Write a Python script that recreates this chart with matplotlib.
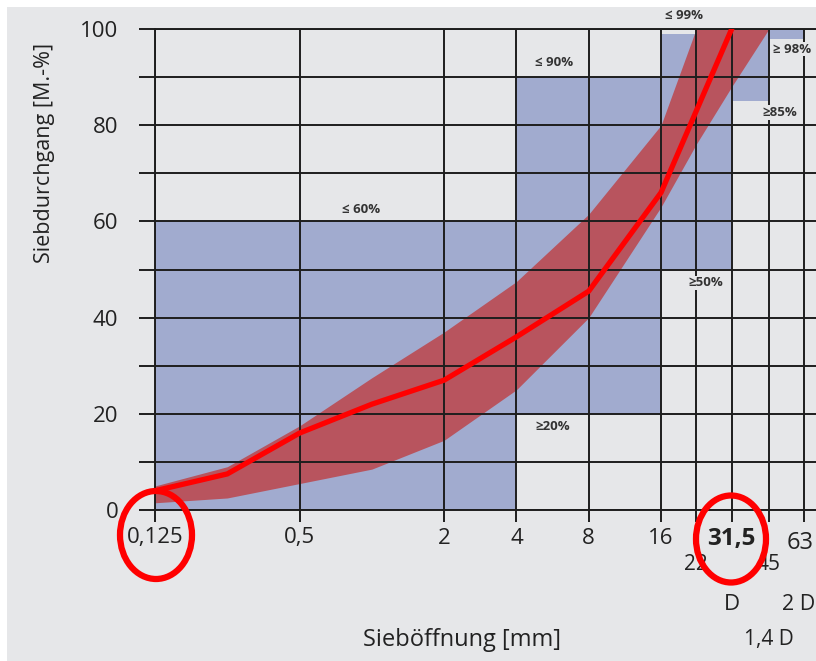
import matplotlib
matplotlib.use("Agg")
import matplotlib.pyplot as plt
import matplotlib.transforms as mtransforms
from matplotlib.patches import Ellipse, Rectangle
from matplotlib.ticker import FixedLocator, NullFormatter

plt.rcParams['font.family'] = ['Open Sans', 'DejaVu Sans']

# grading curve of the mix: sieve size [mm] -> passing [M.-%]
sizes = [0.125, 0.25, 0.5, 1, 2, 4, 8, 16, 31.5]
passing = [4, 7.5, 16, 22, 27, 36, 45.5, 66, 100]

# recommended grading range
band_sizes = [0.125, 0.25, 0.5, 1, 2, 4, 8, 16, 22.4, 31.5, 45]
band_low = [1.5, 2.5, 5.5, 8.5, 14.5, 25, 40, 63, 76, 88, 100]
band_high = [5, 9, 17.5, 27.5, 37, 47.5, 61.5, 80, 100, 100, 100]

# limit zones per sieve interval
zone_from = [0.125, 4, 16, 31.5, 45]
zone_to = [4, 16, 31.5, 45, 63]
zone_min = [0, 20, 50, 85, 98]
zone_max = [60, 90, 99, 100, 100]

major_ticks = [0.125, 0.5, 2, 4, 8, 16, 31.5, 63]
major_labels = ['0,125', '0,5', '2', '4', '8', '16', '31,5', '']
minor_ticks = [22.4, 45]
minor_labels = ['22', '45']

bg = '#e6e7e9'
blue = '#a1abcf'
band_col = '#b8545e'
ink = '#222222'
grid_col = '#1e1e1e'

fig = plt.figure(figsize=(8.16, 6.61), dpi=100)
fig.patch.set_facecolor('white')
fig.add_artist(Rectangle((7 / 816, 0), 1, 1 - 7 / 661, transform=fig.transFigure,
                         facecolor=bg, edgecolor='none', zorder=-1))

ax = fig.add_axes([155 / 816, 151 / 661, 661 / 816, 481 / 661])
ax.set_facecolor(bg)
ax.set_xscale('log')
ax.set_xlim(0.125, 70.7)
ax.set_ylim(0, 100)

for x0, x1, lo, hi in zip(zone_from, zone_to, zone_min, zone_max):
    ax.fill_between([x0, x1], [lo, lo], [hi, hi], color=blue, lw=0, zorder=1)

ax.fill_between(band_sizes, band_low, band_high, color=band_col, lw=0, zorder=2)

ax.plot(sizes, passing, color='#ff0000', lw=3.8, solid_joinstyle='miter', zorder=4)

# grid and ticks
ax.xaxis.set_major_locator(FixedLocator(major_ticks))
ax.xaxis.set_minor_locator(FixedLocator(minor_ticks))
ax.set_xticklabels(major_labels)
ax.xaxis.set_minor_formatter(NullFormatter())
ax.yaxis.set_major_locator(FixedLocator(range(0, 101, 20)))
ax.yaxis.set_minor_locator(FixedLocator(range(10, 100, 20)))
ax.set_axisbelow(False)
ax.grid(which='both', color=grid_col, lw=1.4)
ax.tick_params(axis='x', which='both', length=8.6, width=1.4, color=grid_col,
               pad=4, labelsize=16, labelcolor=ink)
ax.tick_params(axis='y', which='both', length=11.5, width=1.4, color=grid_col,
               pad=15, labelsize=16, labelcolor=ink)
for lab in ax.get_xticklabels():
    if lab.get_text() == '31,5':
        lab.set_fontweight('bold')
        lab.set_fontsize(17.5)

for side in ['left', 'bottom', 'top']:
    ax.spines[side].set_color(grid_col)
    ax.spines[side].set_linewidth(1.4)
ax.spines['right'].set_visible(False)

# extra labels under the size axis
trans = mtransforms.blended_transform_factory(ax.transData, ax.transAxes)
ax.text(61, -0.068, '63', transform=trans, ha='center', va='center', fontsize=17, color=ink)
for x, s in zip(minor_ticks, minor_labels):
    ax.text(x, -0.114, s, transform=trans, ha='center', va='center', fontsize=15, color=ink)
ax.text(31.5, -0.197, 'D', transform=trans, ha='center', va='center', fontsize=16, color=ink)
ax.text(60, -0.197, '2 D', transform=trans, ha='center', va='center', fontsize=15.5, color=ink)
ax.text(45, -0.27, '1,4 D', transform=trans, ha='center', va='center', fontsize=15, color=ink)

# limit annotations
box = dict(facecolor=bg, edgecolor='none', pad=0.6)
ann = dict(fontsize=9.5, fontweight='bold', color='#333333', va='center', zorder=5)
ax.text(0.9, 62.4, '≤ 60%', ha='center', **ann)
ax.text(5.73, 93.1, '≤ 90%', ha='center', **ann)
ax.text(19.9, 102.9, '≤ 99%', ha='center', clip_on=False, **ann)
ax.text(46.8, 95.8, '≥ 98%', ha='left', bbox=box, **ann)
ax.text(50, 82.7, '≥85%', ha='center', bbox=box, **ann)
ax.text(24.6, 47.2, '≥50%', ha='center', bbox=box, **ann)
ax.text(5.68, 17.3, '≥20%', ha='center', **ann)

fig.text(462 / 816, 1 - 640 / 661, 'Sieböffnung [mm]', ha='center', va='center',
         fontsize=17, color=ink)
fig.text(45 / 816, 1 - 153 / 661, 'Siebdurchgang [M.-%]', ha='center', va='center',
         rotation=90, fontsize=15.5, color=ink)

# highlight marks
for cx, cy, w, h in [(156, 535, 72, 88), (731, 539, 70, 87)]:
    fig.add_artist(Ellipse((cx / 816, 1 - cy / 661), w / 816, h / 661,
                           transform=fig.transFigure, facecolor='none',
                           edgecolor='#ff0000', lw=4.5, zorder=10))

fig.savefig('out.png', dpi=100)
